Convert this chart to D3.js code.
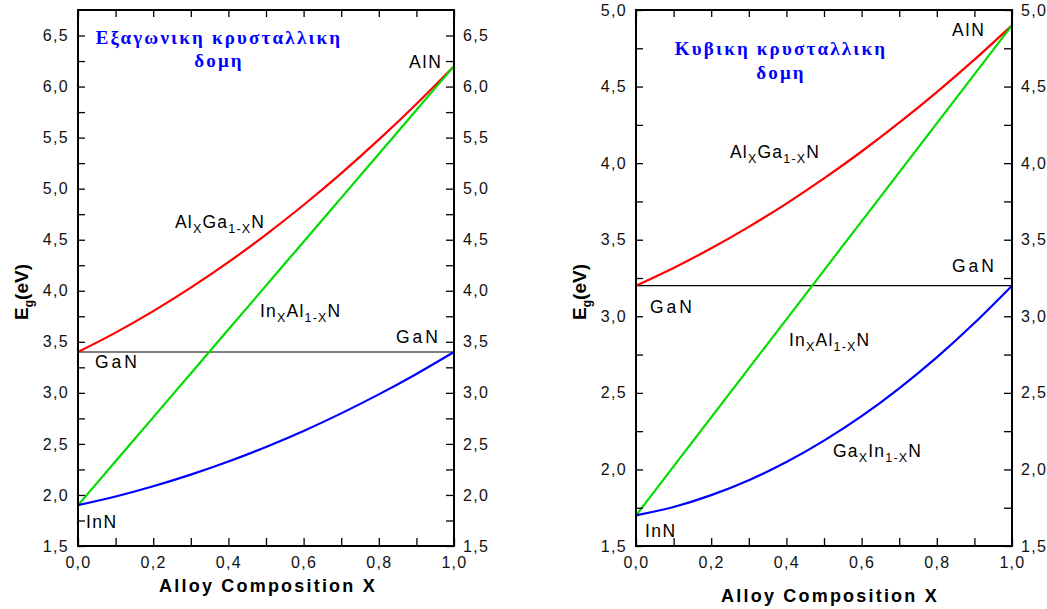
<!DOCTYPE html>
<html>
<head>
<meta charset="utf-8">
<script src="https://cdn.jsdelivr.net/npm/d3@7"></script>
<style>
  body { margin: 0; background: #fff; }
  svg { display: block; font-family: "Liberation Sans", Arial, sans-serif; }
</style>
</head>
<body>
<svg id="chart" width="1047" height="609"></svg>
<script>
// Alloy composition X (shared by every curve)
const composition = [0.0, 0.1, 0.2, 0.3, 0.4, 0.5, 0.6, 0.7, 0.8, 0.9, 1.0];

// Hexagonal (wurtzite) band gaps, eV
const hexAlGaN = [3.400, 3.590, 3.800, 4.030, 4.280, 4.550, 4.840, 5.150, 5.480, 5.830, 6.200];
const hexInAlN = [1.900, 2.330, 2.760, 3.190, 3.620, 4.050, 4.480, 4.910, 5.340, 5.770, 6.200];
const hexInGaN = [1.900, 1.985, 2.085, 2.199, 2.327, 2.470, 2.627, 2.799, 2.985, 3.185, 3.400];
const hexGaN = 3.4;

// Cubic (zinc-blende) band gaps, eV
const cubAlGaN = [3.200, 3.316, 3.444, 3.584, 3.736, 3.900, 4.076, 4.264, 4.464, 4.676, 4.900];
const cubInAlN = [1.700, 2.020, 2.340, 2.660, 2.980, 3.300, 3.620, 3.940, 4.260, 4.580, 4.900];
const cubGaInN = [1.700, 1.755, 1.832, 1.930, 2.048, 2.188, 2.348, 2.530, 2.732, 2.956, 3.200];
const cubGaN = 3.2;

// Axis ticks
const xTicks = [0.0, 0.1, 0.2, 0.3, 0.4, 0.5, 0.6, 0.7, 0.8, 0.9, 1.0];
const xTickLabels = ["0,0", "", "0,2", "", "0,4", "", "0,6", "", "0,8", "", "1,0"];
const hexYTicks = [1.5, 1.75, 2.0, 2.25, 2.5, 2.75, 3.0, 3.25, 3.5, 3.75, 4.0, 4.25, 4.5, 4.75, 5.0, 5.25, 5.5, 5.75, 6.0, 6.25, 6.5];
const cubYTicks = [1.5, 1.75, 2.0, 2.25, 2.5, 2.75, 3.0, 3.25, 3.5, 3.75, 4.0, 4.25, 4.5, 4.75, 5.0];
const hexYDomain = [1.5, 6.75];
const cubYDomain = [1.5, 5.0];

const RED = "#ff0000", GREEN = "#00dd00", BLUE = "#0000ff";

const svg = d3.select("#chart");

function yLabelFmt(v) {
  return Math.abs(v * 2 - Math.round(v * 2)) < 1e-9 ? d3.format(".1f")(v).replace(".", ",") : "";
}

// Text with optional subscripts: parts = [[text, isSub], ...]
function richText(g, x, y, parts, opts = {}) {
  const t = g.append("text")
    .attr("x", x).attr("y", y)
    .attr("font-size", opts.size || 17.5)
    .attr("fill", opts.fill || "#000")
    .attr("letter-spacing", opts.ls != null ? opts.ls : 1.2);
  let lowered = false;
  parts.forEach(([s, sub]) => {
    const ts = t.append("tspan").text(s);
    if (sub && !lowered) { ts.attr("dy", 5).attr("font-size", 12.5); lowered = true; }
    else if (sub) { ts.attr("font-size", 12.5); }
    else if (!sub && lowered) { ts.attr("dy", -5); lowered = false; }
  });
  return t;
}

function panel(cfg) {
  const g = svg.append("g");
  const x = d3.scaleLinear().domain([0, 1]).range([cfg.left, cfg.right]);
  const y = d3.scaleLinear().domain(cfg.yDomain).range([cfg.bottom, cfg.top]);

  // GaN reference level
  g.append("line")
    .attr("x1", x(0)).attr("x2", x(1))
    .attr("y1", y(cfg.gan)).attr("y2", y(cfg.gan))
    .attr("stroke", "#000").attr("stroke-width", 1.2);

  // Alloy curves
  const line = d3.line()
    .x((d, i) => x(composition[i]))
    .y(d => y(d))
    .curve(d3.curveNatural);
  cfg.series.forEach(s => {
    g.append("path")
      .attr("d", line(s.values))
      .attr("fill", "none")
      .attr("stroke", s.color)
      .attr("stroke-width", 2.2);
  });

  // Axes (ticks pointing inward)
  const tickFont = sel => sel.selectAll("text")
    .attr("font-size", 16).attr("letter-spacing", 1.3)
    .attr("fill", "#111").attr("font-family", "Liberation Sans, Arial, sans-serif");
  const clean = sel => { sel.select(".domain").remove(); sel.selectAll(".tick line").attr("stroke", "#000").attr("stroke-width", 1.3); };

  g.append("g").attr("transform", `translate(0,${cfg.bottom})`)
    .call(d3.axisBottom(x).tickValues(xTicks).tickSize(-8).tickPadding(11)
      .tickFormat((d, i) => xTickLabels[i]))
    .call(clean).call(tickFont);
  g.append("g").attr("transform", `translate(0,${cfg.top})`)
    .call(d3.axisTop(x).tickValues(xTicks).tickSize(-7).tickFormat(""))
    .call(clean);
  g.append("g").attr("transform", `translate(${cfg.left},0)`)
    .call(d3.axisLeft(y).tickValues(cfg.yTicks).tickSize(-7).tickPadding(9).tickFormat(yLabelFmt))
    .call(clean).call(tickFont);
  g.append("g").attr("transform", `translate(${cfg.right},0)`)
    .call(d3.axisRight(y).tickValues(cfg.yTicks).tickSize(-8).tickPadding(9).tickFormat(yLabelFmt))
    .call(clean).call(tickFont);

  // Frame
  g.append("rect")
    .attr("x", cfg.left).attr("y", cfg.top)
    .attr("width", cfg.right - cfg.left).attr("height", cfg.bottom - cfg.top)
    .attr("fill", "none").attr("stroke", "#000").attr("stroke-width", 2);

  // Title (blue, two lines)
  cfg.title.forEach((txt, i) => {
    g.append("text")
      .attr("x", cfg.titleX).attr("y", cfg.titleY[i])
      .attr("text-anchor", "middle")
      .attr("font-family", "Liberation Serif, Times New Roman, serif")
      .attr("font-weight", "bold").attr("font-size", 19)
      .attr("letter-spacing", 2.2)
      .attr("fill", BLUE).text(txt);
  });

  // Curve and compound labels
  cfg.labels.forEach(l => richText(g, l.x, l.y, l.parts, { ls: l.ls }));

  // Axis titles
  const yt = g.append("text")
    .attr("transform", `translate(${cfg.yTitleX},${cfg.yTitleY}) rotate(-90)`)
    .attr("text-anchor", "middle").attr("font-weight", "bold").attr("font-size", 19);
  yt.append("tspan").text("E");
  yt.append("tspan").text("g").attr("font-size", 12).attr("dy", 5);
  yt.append("tspan").text("(eV)").attr("dy", -5);

  g.append("text")
    .attr("x", cfg.xTitleX).attr("y", cfg.xTitleY)
    .attr("text-anchor", "middle").attr("font-weight", "bold")
    .attr("font-size", 18).attr("letter-spacing", 2.2)
    .text("Alloy Composition X");
}

panel({
  left: 78, right: 454, top: 10, bottom: 546,
  yDomain: hexYDomain, yTicks: hexYTicks, gan: hexGaN,
  series: [
    { values: hexAlGaN, color: RED },
    { values: hexInAlN, color: GREEN },
    { values: hexInGaN, color: BLUE }
  ],
  title: ["Εξαγωνικη κρυσταλλικη", "δομη"], titleX: 219, titleY: [44, 67],
  labels: [
    { x: 409, y: 68, parts: [["AlN"]], ls: 1.8 },
    { x: 175, y: 228, parts: [["Al"], ["X", 1], ["Ga"], ["1-X", 1], ["N"]] },
    { x: 260, y: 317, parts: [["In"], ["X", 1], ["Al"], ["1-X", 1], ["N"]] },
    { x: 396, y: 343, parts: [["GaN"]], ls: 3 },
    { x: 95, y: 368, parts: [["GaN"]], ls: 3 },
    { x: 86, y: 528, parts: [["InN"]], ls: 1.5 }
  ],
  yTitleX: 28, yTitleY: 292,
  xTitleX: 268, xTitleY: 592
});

panel({
  left: 636, right: 1012, top: 10, bottom: 546,
  yDomain: cubYDomain, yTicks: cubYTicks, gan: cubGaN,
  series: [
    { values: cubAlGaN, color: RED },
    { values: cubInAlN, color: GREEN },
    { values: cubGaInN, color: BLUE }
  ],
  title: ["Κυβικη κρυσταλλικη", "δομη"], titleX: 781, titleY: [55, 79],
  labels: [
    { x: 952, y: 36, parts: [["AlN"]], ls: 1.8 },
    { x: 730, y: 158, parts: [["Al"], ["X", 1], ["Ga"], ["1-X", 1], ["N"]] },
    { x: 952, y: 272, parts: [["GaN"]], ls: 3 },
    { x: 650, y: 313, parts: [["GaN"]], ls: 3 },
    { x: 789, y: 346, parts: [["In"], ["X", 1], ["Al"], ["1-X", 1], ["N"]] },
    { x: 833, y: 457, parts: [["Ga"], ["X", 1], ["In"], ["1-X", 1], ["N"]] },
    { x: 645, y: 537, parts: [["InN"]], ls: 1.5 }
  ],
  yTitleX: 586, yTitleY: 292,
  xTitleX: 830, xTitleY: 602
});
</script>
</body>
</html>
